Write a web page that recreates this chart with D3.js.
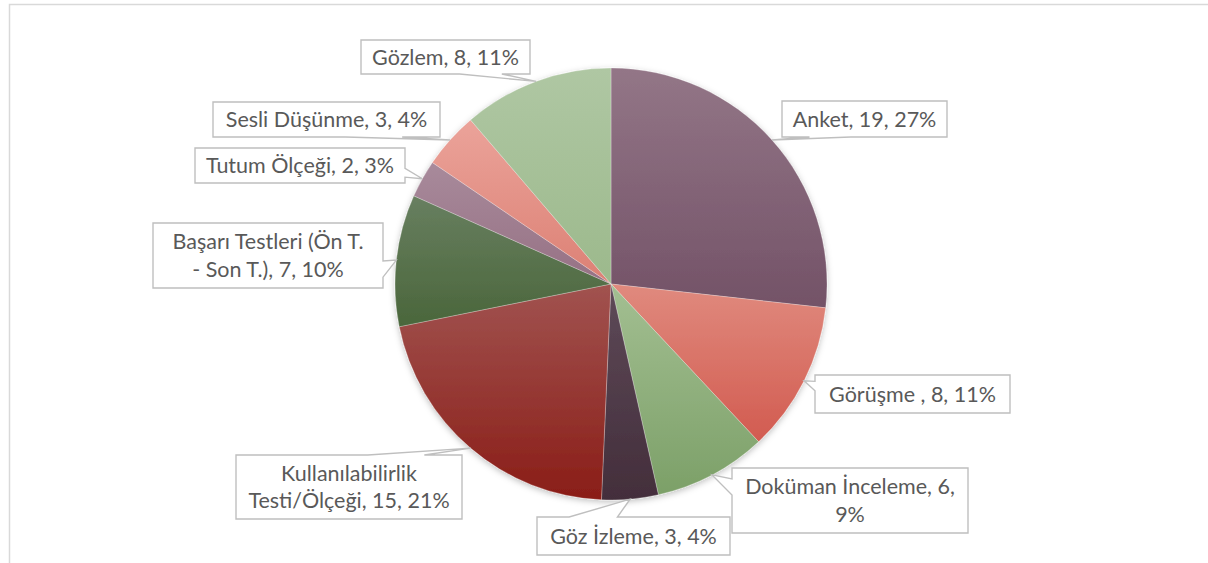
<!DOCTYPE html>
<html>
<head>
<meta charset="utf-8">
<script src="https://cdn.jsdelivr.net/npm/d3@7/dist/d3.min.js"></script>
<style>
  html, body { margin: 0; padding: 0; background: #fff; }
  svg { display: block; }
</style>
</head>
<body>
<svg id="chart" width="1208" height="563"></svg>
<script>
// Research methods used in the reviewed studies
const categories = [
  "Anket", "Görüşme ", "Doküman İnceleme", "Göz İzleme",
  "Kullanılabilirlik Testi/Ölçeği", "Başarı Testleri (Ön T. - Son T.)",
  "Tutum Ölçeği", "Sesli Düşünme", "Gözlem"
];
const values = [19, 8, 6, 3, 15, 7, 2, 3, 8];
const percentLabels = ["27%", "11%", "9%", "4%", "21%", "10%", "3%", "4%", "11%"];

// Slice fills: gradient top colour and bottom colour
const colorsTop    = ["#937687", "#e08a7e", "#a3bf92", "#5e4a58", "#a15350", "#687f60", "#a88a9b", "#eba39a", "#afc7a3"];
const colorsBottom = ["#735267", "#d25b50", "#7ca068", "#432e3b", "#8a1d17", "#4a663b", "#967184", "#dc8074", "#9cb98c"];

// Callout boxes (x, y, width, height) and how many words go on the first line
const labelBoxes = [
  { x: 782, y: 101, w: 165, h: 36, firstLineWords: 0 },
  { x: 815, y: 375, w: 195, h: 38, firstLineWords: 0 },
  { x: 732, y: 468, w: 236, h: 65, firstLineWords: 3 },
  { x: 537, y: 517, w: 193, h: 38, firstLineWords: 0 },
  { x: 236, y: 455, w: 226, h: 64, firstLineWords: 1 },
  { x: 153, y: 223, w: 230, h: 65, firstLineWords: 4 },
  { x: 195, y: 148, w: 210, h: 35, firstLineWords: 0 },
  { x: 213, y: 102, w: 227, h: 35, firstLineWords: 0 },
  { x: 361, y: 40,  w: 169, h: 34, firstLineWords: 0 }
];

const cx = 611, cy = 284, radius = 216;

const svg = d3.select("#chart");
const defs = svg.append("defs");

// Chart area frame
svg.append("rect")
  .attr("x", 9.5).attr("y", 4.5)
  .attr("width", 1220).attr("height", 600)
  .attr("fill", "none")
  .attr("stroke", "#d9d9d9")
  .attr("stroke-width", 1.5);

// Soft shadow under the pie
const shadow = defs.append("filter").attr("id", "pieShadow")
  .attr("x", "-10%").attr("y", "-10%").attr("width", "120%").attr("height", "120%");
shadow.append("feDropShadow")
  .attr("dx", 0).attr("dy", 2).attr("stdDeviation", 3)
  .attr("flood-color", "#000").attr("flood-opacity", 0.25);

values.forEach((v, i) => {
  const g = defs.append("linearGradient")
    .attr("id", "grad" + i)
    .attr("x1", 0).attr("y1", 0).attr("x2", 0).attr("y2", 1);
  g.append("stop").attr("offset", "0%").attr("stop-color", colorsTop[i]);
  g.append("stop").attr("offset", "100%").attr("stop-color", colorsBottom[i]);
});

const pie = d3.pie().sort(null).value(d => d).startAngle(0).endAngle(2 * Math.PI);
const arcs = pie(values);
const arc = d3.arc().innerRadius(0).outerRadius(radius);

const pieG = svg.append("g")
  .attr("transform", `translate(${cx},${cy})`)
  .attr("filter", "url(#pieShadow)");

pieG.selectAll("path.slice")
  .data(arcs)
  .join("path")
  .attr("class", "slice")
  .attr("d", arc)
  .attr("fill", (d, i) => `url(#grad${i})`)
  .attr("stroke", "rgba(255,255,255,0.35)")
  .attr("stroke-width", 0.75);

// Callout outline: rectangle with a wedge tail pointing at the slice
function calloutPath(b, tip) {
  const x = b.x, y = b.y, w = b.w, h = b.h;
  const mx = x + w / 2, my = y + h / 2;
  const dx = tip[0] - mx, dy = tip[1] - my;
  const horizontal = Math.abs(dx) / w > Math.abs(dy) / h;
  const p = [];
  p.push(`M${x},${y}`);
  if (!horizontal && dy < 0) {
    const a = dx < 0 ? x + w * 2 / 12 : x + w * 7 / 12;
    const c = dx < 0 ? x + w * 5 / 12 : x + w * 10 / 12;
    p.push(`L${a},${y}`, `L${tip[0]},${tip[1]}`, `L${c},${y}`);
  }
  p.push(`L${x + w},${y}`);
  if (horizontal && dx > 0) {
    const a = dy < 0 ? y + h * 2 / 12 : y + h * 7 / 12;
    const c = dy < 0 ? y + h * 5 / 12 : y + h * 10 / 12;
    p.push(`L${x + w},${a}`, `L${tip[0]},${tip[1]}`, `L${x + w},${c}`);
  }
  p.push(`L${x + w},${y + h}`);
  if (!horizontal && dy > 0) {
    const a = dx < 0 ? x + w * 2 / 12 : x + w * 7 / 12;
    const c = dx < 0 ? x + w * 5 / 12 : x + w * 10 / 12;
    p.push(`L${c},${y + h}`, `L${tip[0]},${tip[1]}`, `L${a},${y + h}`);
  }
  p.push(`L${x},${y + h}`);
  if (horizontal && dx < 0) {
    const a = dy < 0 ? y + h * 2 / 12 : y + h * 7 / 12;
    const c = dy < 0 ? y + h * 5 / 12 : y + h * 10 / 12;
    p.push(`L${x},${c}`, `L${tip[0]},${tip[1]}`, `L${x},${a}`);
  }
  p.push("Z");
  return p.join("");
}

const labelG = svg.append("g");

arcs.forEach((d, i) => {
  const mid = (d.startAngle + d.endAngle) / 2;
  const tip = [cx + radius * Math.sin(mid), cy - radius * Math.cos(mid)];
  const b = labelBoxes[i];

  labelG.append("path")
    .attr("d", calloutPath(b, tip))
    .attr("fill", "#ffffff")
    .attr("stroke", "#bfbfbf")
    .attr("stroke-width", 1.4)
    .attr("stroke-linejoin", "miter");

  const full = `${categories[i]}, ${values[i]}, ${percentLabels[i]}`;
  let lines = [full];
  if (b.firstLineWords > 0) {
    const words = full.split(" ");
    lines = [words.slice(0, b.firstLineWords).join(" "), words.slice(b.firstLineWords).join(" ")];
  }
  const lineH = 27.5;
  const text = labelG.append("text")
    .attr("text-anchor", "middle")
    .attr("font-family", "Lato, 'Open Sans', sans-serif")
    .attr("font-size", 21.5)
    .attr("fill", "#595959");
  const startY = b.y + b.h / 2 - (lines.length - 1) * lineH / 2 + 7.5;
  lines.forEach((ln, k) => {
    text.append("tspan")
      .attr("x", b.x + b.w / 2)
      .attr("y", startY + k * lineH)
      .text(ln);
  });
});
</script>
</body>
</html>
